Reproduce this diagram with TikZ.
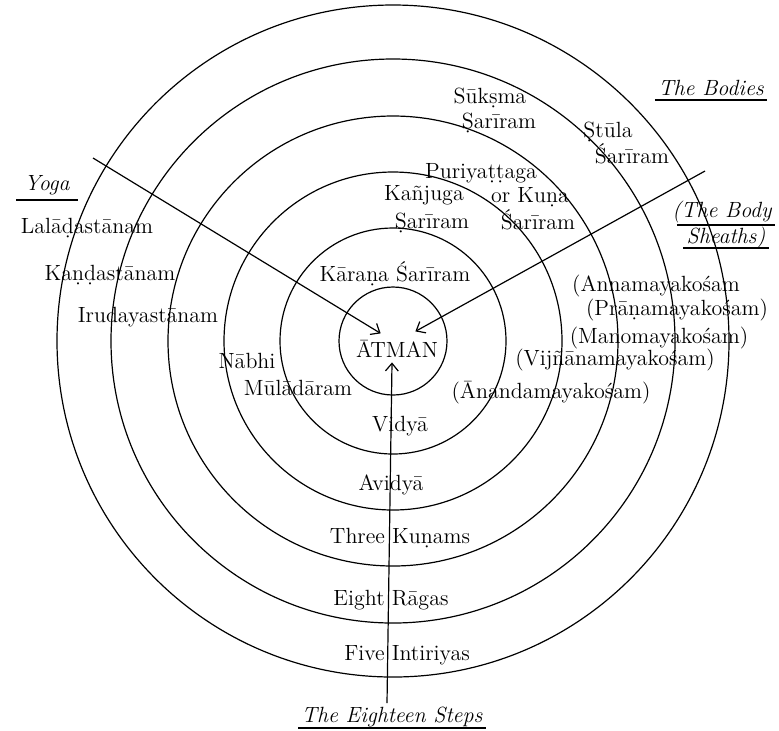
\documentclass[tikz,border=0pt]{standalone}
\usepackage{fontspec}
\usetikzlibrary{arrows.meta}
\tikzstyle{ring} = [semithick]
\tikzstyle{word} = [inner sep=0pt, anchor=base, font=\fontsize{11}{13}\selectfont]
\tikzstyle{heading} = [word, inner xsep=1.5pt, font=\fontsize{11}{13}\selectfont\itshape]
\tikzstyle{rule} = [semithick]
\tikzstyle{arrow} = [semithick,->,>={Straight Barb[angle=80:5pt]}]

\begin{document}
\begin{tikzpicture}[x=0.5pt, y=-0.5pt]
    \useasboundingbox (0,0) rectangle (779,730);
    \coordinate (centre) at (393,341);
    \foreach \r in {54,113,169,225,282,336}
        \draw [ring] (centre) circle (\r);

    \node (atman) [word] at (397,357) {ĀTMAN};
    \node (karana) [word] at (395,281) {Kāraṇa Śarīram};
    \node (kanjuga) [word] at (424,200) {Kañjuga};
    \node (kanjugasar) [word] at (432,228) {Ṣarīram};
    \node (puri) [word] at (481,178) {Puriyaṭṭaga};
    \node (kuna) [word] at (530,202) {or Kuṇa};
    \node (kunasar) [word] at (538,229) {Śarīram};
    \node (suksma) [word] at (490,103) {Sūkṣma};
    \node (suksmasar) [word] at (499,128) {Ṣarīram};
    \node (stula) [word] at (608,137) {Ṣtūla};
    \node (stulasar) [word] at (632,163) {Śarīram};

    \node (yoga) [heading, inner xsep=4pt] at (47,190) {Yoga};
    \node (lalada) [word] at (87,233) {Lalāḍastānam};
    \node (kanda) [word] at (110,280) {Kaṇḍastānam};
    \node (iruda) [word] at (148,322) {Irudayastānam};
    \node (nabhi) [word] at (247,368) {Nābhi};
    \node (mula) [word] at (298,395) {Mūlādāram};

    \node (bodies) [heading] at (711,95) {The Bodies};
    \node (sheathsA) [heading] at (722,217) {(The Body};
    \node (sheathsB) [heading] at (726,243) {Sheaths)};
    \node (anna) [word] at (656,291) {(Annamayakośam};
    \node (prana) [word] at (677,315) {(Prāṇamayakośam)};
    \node (mano) [word] at (659,343) {(Manomayakośam)};
    \node (vijnana) [word] at (615,365) {(Vijñānamayakośam)};
    \node (ananda) [word] at (551,398) {(Ānandamayakośam)};

    \node (vidya) [word] at (400,431) {Vidyā};
    \node (avidya) [word] at (391,490) {Avidyā};
    \node (kunams) [word] at (400,543) {Three Kuṇams};
    \node (ragas) [word] at (391,605) {Eight Rāgas};
    \node (intiri) [word] at (407,660) {Five Intiriyas};
    \node (steps) [heading] at (392,722) {The Eighteen Steps};

    \draw [rule] ([yshift=-5pt]yoga.base west) -- ([yshift=-5pt]yoga.base east);
    \draw [rule] ([yshift=-2.5pt]bodies.base west) -- ([yshift=-2.5pt]bodies.base east);
    \draw [rule] ([xshift=4pt,yshift=-4pt]sheathsA.base west) -- ([yshift=-4pt]sheathsA.base east);
    \draw [rule] ([yshift=-2.5pt]sheathsB.base west) -- ([yshift=-2.5pt]sheathsB.base east);
    \draw [rule] ([yshift=-3pt]steps.base west) -- ([yshift=-3pt]steps.base east);

    \coordinate (yogastart) at (93,158);
    \coordinate (sheathstart) at (705,171);
    \coordinate (stepstart) at (387,703);
    \draw [arrow] (yogastart) -- ([xshift=12.5pt,yshift=3pt]atman.north west);
    \draw [arrow] (sheathstart) -- ([xshift=-11.5pt,yshift=4pt]atman.north east);
    \draw [arrow] (stepstart) -- ([xshift=-2.5pt,yshift=-2.5pt]atman.south);

\end{tikzpicture}
\end{document}
